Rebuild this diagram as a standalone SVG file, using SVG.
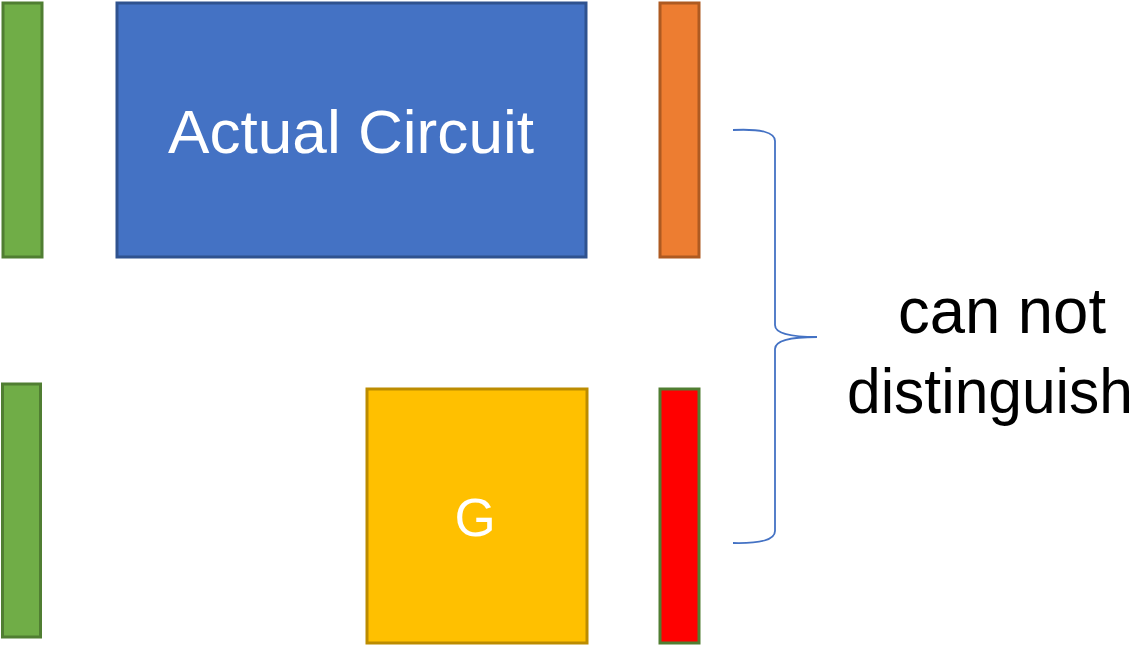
<svg xmlns="http://www.w3.org/2000/svg" width="1143" height="646" viewBox="0 0 1143 646">
  <style>
    .box { stroke-width: 3; }
    .green { fill: #70AD47; stroke: #507E32; }
    .blue { fill: #4472C4; stroke: #2F528F; }
    .orange { fill: #ED7D31; stroke: #AE5A21; }
    .yellow { fill: #FFC000; stroke: #BC8C00; }
    .red { fill: #FF0000; stroke: #507E32; }
    .label { font-family: "Liberation Sans", Arial, sans-serif; text-anchor: middle; }
    .white { fill: #FFFFFF; }
    .dark { fill: #000000; }
    .brace { fill: none; stroke: #4472C4; stroke-width: 1.8; }
  </style>

  <rect width="1143" height="646" fill="#FFFFFF"/>

  <!-- top row: input, circuit, output -->
  <g id="input-top">
    <rect class="box green" x="3" y="3" width="39" height="254"/>
  </g>
  <g id="actual-circuit">
    <rect class="box blue" x="117" y="3" width="469" height="254"/>
    <text class="label white" x="351" y="153" font-size="62" textLength="366" lengthAdjust="spacingAndGlyphs">Actual Circuit</text>
  </g>
  <g id="output-top">
    <rect class="box orange" x="660" y="3" width="39" height="254"/>
  </g>

  <!-- bottom row: input, generator, output -->
  <g id="input-bottom">
    <rect class="box green" x="2.5" y="384" width="38" height="253"/>
  </g>
  <g id="generator">
    <rect class="box yellow" x="367" y="389" width="220" height="254"/>
    <text class="label white" x="475" y="536" font-size="53">G</text>
  </g>
  <g id="output-bottom">
    <rect class="box red" x="660" y="389" width="39" height="254"/>
  </g>

  <!-- brace grouping both outputs -->
  <g id="connectors">
    <path class="brace" d="M733,130 Q775,128 775,141 L775,325 Q775,337 817,337 Q775,337 775,349 L775,531 Q775,544 733,543"/>
  </g>

  <g id="caption">
    <text class="label dark" x="1002" y="333" font-size="64" textLength="208" lengthAdjust="spacingAndGlyphs">can not</text>
    <text class="label dark" x="990" y="413" font-size="63" textLength="286" lengthAdjust="spacingAndGlyphs">distinguish</text>
  </g>
</svg>
